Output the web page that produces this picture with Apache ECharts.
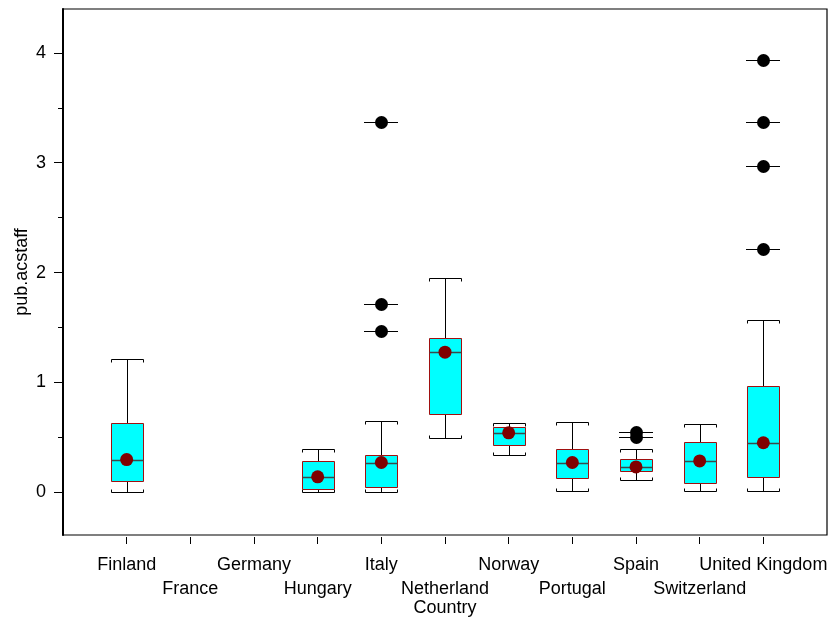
<!DOCTYPE html>
<html>
<head>
<meta charset="utf-8">
<script src="https://cdn.jsdelivr.net/npm/echarts@6/dist/echarts.min.js"></script>
<style>
html,body{margin:0;padding:0;background:#fff;}
#chart{width:830px;height:621px;}
</style>
</head>
<body>
<div id="chart"></div>
<script>
// ---- data ----
const categories = ['Finland','France','Germany','Hungary','Italy','Netherland','Norway','Portugal','Spain','Switzerland','United Kingdom'];
const whiskerLow  = [0.00, null, null, 0.00, 0.00, 0.49, 0.335, 0.015, 0.115, 0.01, 0.015];
const quartile1   = [0.10, null, null, 0.025, 0.05, 0.71, 0.43, 0.125, 0.19, 0.08, 0.136];
const medians     = [0.294, null, null, 0.136, 0.27, 1.275, 0.54, 0.27, 0.23, 0.285, 0.45];
const quartile3   = [0.634, null, null, 0.28, 0.34, 1.40, 0.595, 0.395, 0.30, 0.455, 0.965];
const whiskerHigh = [1.21, null, null, 0.39, 0.645, 1.95, 0.63, 0.64, 0.39, 0.625, 1.57];
const means       = [0.297, null, null, 0.14, 0.27, 1.275, 0.54, 0.27, 0.23, 0.285, 0.45];
const outlierCountry = ['Italy','Italy','Italy','Spain','Spain','United Kingdom','United Kingdom','United Kingdom','United Kingdom'];
const outlierValue   = [3.37, 1.71, 1.47, 0.55, 0.505, 3.94, 3.37, 2.97, 2.21];
const yMajorTicks = [0, 1, 2, 3, 4];
const yMinorTicks = [0.5, 1.5, 2.5, 3.5];
const xTitle = 'Country';
const yTitle = 'pub.acstaff';

// ---- build series data ----
const boxData = [];
categories.forEach((c, i) => {
  if (quartile1[i] == null) return;
  boxData.push([i + 1, whiskerLow[i], quartile1[i], medians[i], quartile3[i], whiskerHigh[i]]);
});
const meanData = [];
categories.forEach((c, i) => { if (means[i] != null) meanData.push([i + 1, means[i]]); });
const outlierData = outlierCountry.map((c, k) => [categories.indexOf(c) + 1, outlierValue[k]]);
const xPositions = categories.map((c, i) => i + 1);
const xRow1 = xPositions.filter(v => v % 2 === 1);
const xRow2 = xPositions.filter(v => v % 2 === 0);

const FONT = "'Liberation Sans', Arial, sans-serif";
const FS = 18;
const HW = 16, TK = 3;
const px = v => Math.round(v) + 0.5;

function renderBox(params, api) {
  const x = api.value(0);
  const cx = px(api.coord([x, 0])[0]);
  const y = v => px(api.coord([x, v])[1]);
  const yLow = y(api.value(1)), yQ1 = y(api.value(2)), yMed = y(api.value(3)), yQ3 = y(api.value(4)), yHigh = y(api.value(5));
  const ls = { stroke: '#000', lineWidth: 1, fill: null };
  return {
    type: 'group',
    children: [
      { type: 'line', shape: { x1: cx, y1: yQ3, x2: cx, y2: yHigh }, style: ls },
      { type: 'line', shape: { x1: cx, y1: yLow, x2: cx, y2: yQ1 }, style: ls },
      { type: 'polyline', shape: { points: [[cx - HW, yHigh + TK], [cx - HW, yHigh], [cx + HW, yHigh], [cx + HW, yHigh + TK]] }, style: ls },
      { type: 'polyline', shape: { points: [[cx - HW, yLow - TK], [cx - HW, yLow], [cx + HW, yLow], [cx + HW, yLow - TK]] }, style: ls },
      { type: 'rect', shape: { x: cx - HW, y: yQ3, width: 2 * HW, height: yQ1 - yQ3 }, style: { fill: '#00ffff', stroke: '#a01010', lineWidth: 1 } },
      { type: 'line', shape: { x1: cx - HW, y1: yMed, x2: cx + HW, y2: yMed }, style: { stroke: '#3a4a4a', lineWidth: 1.3 } }
    ]
  };
}

function renderOutlier(params, api) {
  const p = api.coord([api.value(0), api.value(1)]);
  const cx = Math.round(p[0]), cy = px(p[1]);
  return {
    type: 'group',
    children: [
      { type: 'line', shape: { x1: cx - 17, y1: cy, x2: cx + 17, y2: cy }, style: { stroke: '#000', lineWidth: 1 } },
      { type: 'circle', shape: { cx: cx + 0.5, cy: cy, r: 6.5 }, style: { fill: '#000' } }
    ]
  };
}

const labelName = v => categories[Math.round(v) - 1] || '';
const baseX = {
  type: 'value', min: 0, max: 12, position: 'bottom', offset: 2,
  axisLine: { show: false, onZero: false }, splitLine: { show: false }
};

const chart = echarts.init(document.getElementById('chart'), null, { renderer: 'canvas' });
chart.setOption({
  animation: false,
  backgroundColor: '#fff',
  textStyle: { fontFamily: FONT, color: '#000' },
  grid: { left: 63, right: 3, top: 9, bottom: 86, show: true, borderColor: '#000', borderWidth: 1.2, backgroundColor: 'transparent', outerBoundsMode: 'none', containLabel: false },
  xAxis: [
    Object.assign({}, baseX, {
      name: xTitle, nameLocation: 'middle', nameGap: 62, nameMoveOverlap: false,
      nameTextStyle: { fontFamily: FONT, fontSize: FS, color: '#000' },
      axisTick: { show: true, length: 7, customValues: xRow1, lineStyle: { color: '#000' } },
      axisLabel: { customValues: xRow1, margin: 19, fontFamily: FONT, fontSize: FS, color: '#000',
        showMinLabel: true, showMaxLabel: true, hideOverlap: false, formatter: labelName }
    }),
    Object.assign({}, baseX, {
      axisTick: { show: true, length: 7, customValues: xRow2, lineStyle: { color: '#000' } },
      axisLabel: { customValues: xRow2, margin: 43, fontFamily: FONT, fontSize: FS, color: '#000',
        showMinLabel: true, showMaxLabel: true, hideOverlap: false, formatter: labelName }
    })
  ],
  yAxis: [
    {
      type: 'value', min: -0.39, max: 4.4, position: 'left',
      name: yTitle, nameLocation: 'middle', nameRotate: 90, nameGap: 32, nameMoveOverlap: false,
      nameTextStyle: { fontFamily: FONT, fontSize: FS, color: '#000' },
      axisLine: { show: true, onZero: false, lineStyle: { color: '#000', width: 2 } },
      splitLine: { show: false },
      axisTick: { show: true, length: 9, customValues: yMajorTicks, lineStyle: { color: '#000' } },
      axisLabel: { customValues: yMajorTicks, margin: 17, fontFamily: FONT, fontSize: FS, color: '#000' }
    },
    {
      type: 'value', min: -0.39, max: 4.4, position: 'left', offset: 0,
      axisLine: { show: false, onZero: false }, splitLine: { show: false },
      axisTick: { show: true, length: 5, customValues: yMinorTicks, lineStyle: { color: '#000' } },
      axisLabel: { show: false }
    }
  ],
  series: [
    { type: 'custom', name: 'box', renderItem: renderBox, data: boxData, encode: { x: 0, y: [1, 2, 3, 4, 5] }, z: 2, silent: true },
    { type: 'custom', name: 'outliers', renderItem: renderOutlier, data: outlierData, encode: { x: 0, y: 1 }, z: 3, silent: true },
    { type: 'scatter', name: 'mean', data: meanData, symbol: 'circle', symbolSize: 13, itemStyle: { color: '#800000', opacity: 1 }, z: 4, silent: true }
  ]
});
</script>
</body>
</html>
